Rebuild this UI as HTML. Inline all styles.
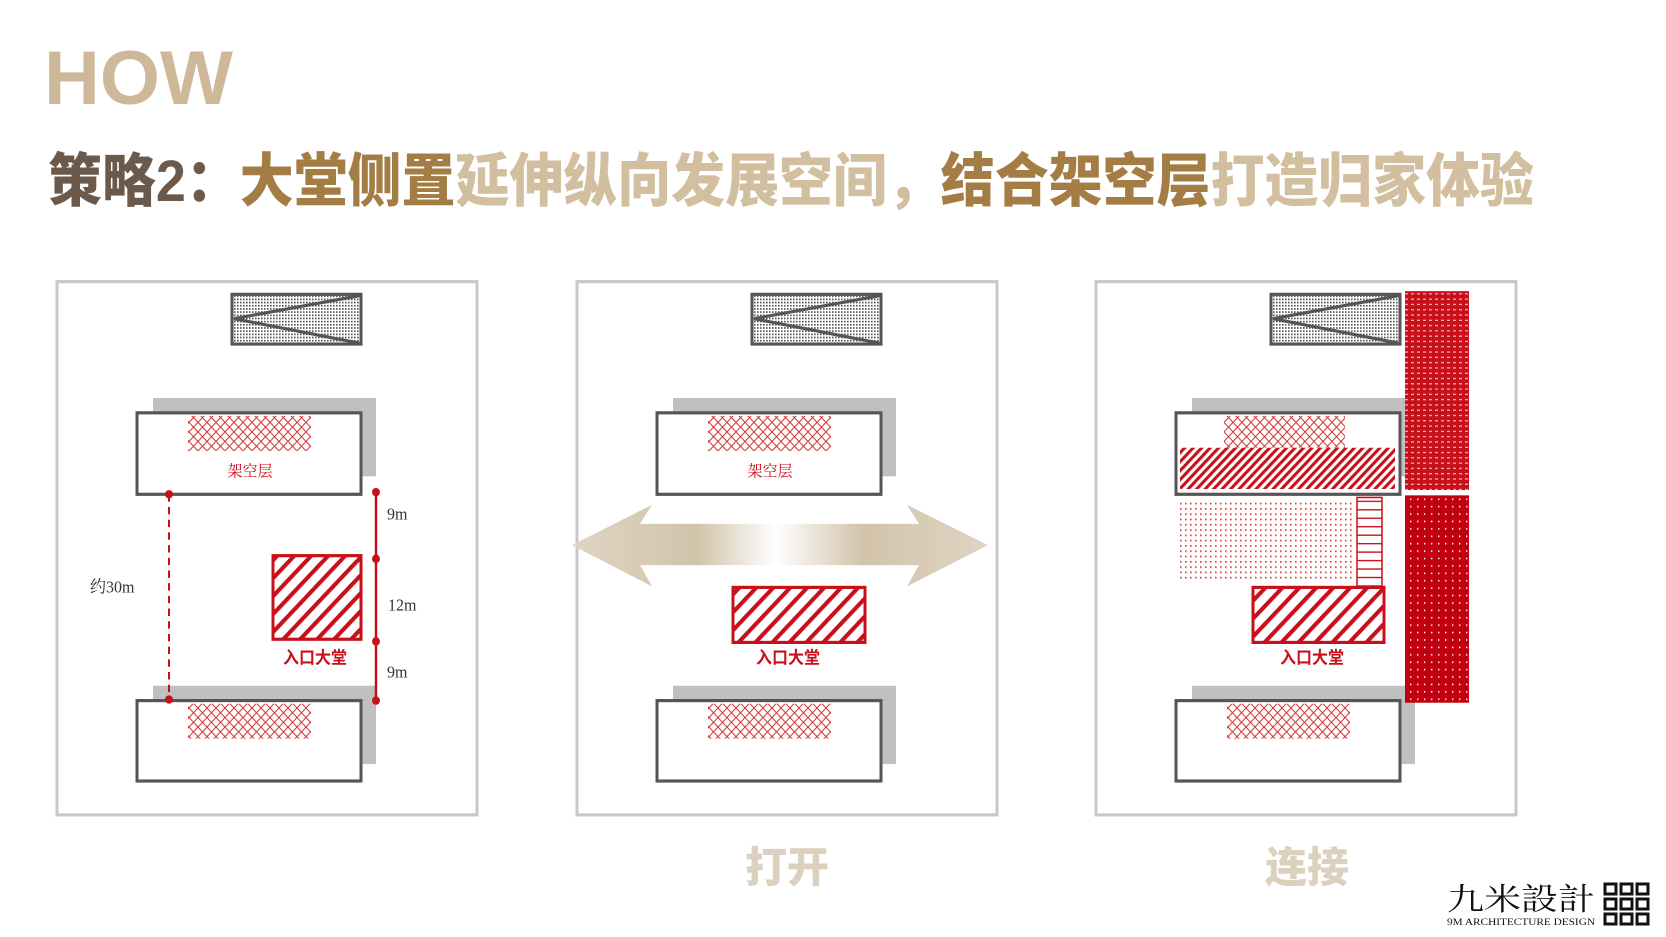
<!DOCTYPE html>
<html><head><meta charset="utf-8"><style>
html,body{margin:0;padding:0;background:#fff;}
svg{display:block;}
</style></head><body>
<svg width="1666" height="937" viewBox="0 0 1666 937" xmlns="http://www.w3.org/2000/svg">
<defs>
<pattern id="cross" width="9" height="9" patternUnits="userSpaceOnUse">
<path d="M0 0L9 9M9 0L0 9" stroke="#d03030" stroke-width="1"/>
</pattern>
<pattern id="diag" width="12" height="12" patternUnits="userSpaceOnUse" patternTransform="rotate(45)">
<rect width="12" height="12" fill="#fff"/><rect x="0" y="0" width="4" height="12" fill="#c8101a"/>
</pattern>
<pattern id="diag2" width="6" height="6" patternUnits="userSpaceOnUse" patternTransform="rotate(45)">
<rect width="6" height="6" fill="#fff"/><rect x="0" y="0" width="3" height="6" fill="#c8101a"/>
</pattern>
<pattern id="dots" width="3" height="3" patternUnits="userSpaceOnUse">
<rect width="3" height="3" fill="#fff"/><rect width="1.6" height="1.6" fill="#555"/>
</pattern>
<pattern id="pinkdots" width="5" height="5" patternUnits="userSpaceOnUse">
<rect width="5" height="5" fill="#fff"/><rect width="1.6" height="1.6" fill="#d84040"/>
</pattern>
<pattern id="redtex" width="6" height="5" patternUnits="userSpaceOnUse">
<rect width="6" height="5" fill="#c8101a"/><rect x="1" y="2" width="3" height="1.1" fill="#f0c0c0"/>
</pattern>
<pattern id="reddot" width="7" height="7" patternUnits="userSpaceOnUse">
<rect width="7" height="7" fill="#c00010"/><rect x="3" y="3" width="1.4" height="1.4" fill="#fff"/>
</pattern>
<pattern id="ladder" width="10" height="8" patternUnits="userSpaceOnUse">
<rect width="10" height="8" fill="#fff"/><rect y="0" width="10" height="1.3" fill="#c8101a"/>
</pattern>
<linearGradient id="ag" x1="572" y1="0" x2="988" y2="0" gradientUnits="userSpaceOnUse">
<stop offset="0" stop-color="#e0d5c3"/><stop offset="0.3" stop-color="#d2c3aa"/>
<stop offset="0.49" stop-color="#ffffff"/><stop offset="0.7" stop-color="#d2c3aa"/><stop offset="1" stop-color="#e0d5c3"/>
</linearGradient>
<g id="stair">
<rect x="232" y="293" width="129" height="47" fill="url(#dots)" stroke="#555" stroke-width="3"/>
<path d="M361 294L234 316L359 339" fill="none" stroke="#555" stroke-width="3"/>
</g>
<g id="bld">
<rect x="153" y="391" width="223" height="74" fill="#c0c0c0"/>
<rect x="137" y="405" width="224" height="77" fill="#fff" stroke="#555" stroke-width="3"/>
<rect x="153" y="663" width="223" height="74" fill="#c0c0c0"/>
<rect x="137" y="677" width="224" height="76" fill="#fff" stroke="#555" stroke-width="3"/>
<rect x="188" y="680" width="123" height="33" fill="url(#cross)"/>
</g>
</defs>

<text x="44" y="104" font-family="Liberation Sans, sans-serif" font-weight="bold" font-size="76" fill="#cdb99a" textLength="189" lengthAdjust="spacingAndGlyphs">HOW</text>

<text x="48" y="201" font-family="Liberation Sans, 'Noto Sans CJK SC', sans-serif" font-weight="900" font-size="58" textLength="1486" lengthAdjust="spacingAndGlyphs"><tspan fill="#6b5a4c">策略2：</tspan><tspan fill="#a47d45">大堂侧置</tspan><tspan fill="#d2bf9f">延伸纵向发展空间，</tspan><tspan fill="#a47d45">结合架空层</tspan><tspan fill="#d2bf9f">打造归家体验</tspan></text>

<g transform="matrix(1 0 0 1.058 0 -15.66)">
<!-- Panel 1 -->
<rect x="57" y="281" width="420" height="504" fill="#fff" stroke="#c8c8c8" stroke-width="3"/>
<use href="#stair"/>
<use href="#bld"/>
<rect x="188" y="408" width="123" height="33" fill="url(#cross)"/>
<text x="250" y="465" text-anchor="middle" font-family="'Noto Serif CJK SC', serif" font-size="15" fill="#c8101a">架空层</text>
<line x1="169" y1="482" x2="169" y2="676" stroke="#c8101a" stroke-width="2" stroke-dasharray="7,5"/>
<circle cx="169" cy="482" r="4" fill="#c8101a"/><circle cx="169" cy="676" r="4" fill="#c8101a"/>
<line x1="376" y1="480" x2="376" y2="677" stroke="#c8101a" stroke-width="2.5"/>
<circle cx="376" cy="480" r="4" fill="#c8101a"/><circle cx="376" cy="543" r="4" fill="#c8101a"/>
<circle cx="376" cy="621" r="4" fill="#c8101a"/><circle cx="376" cy="677" r="4" fill="#c8101a"/>
<text x="387" y="506" font-family="Liberation Serif, serif" font-size="16" fill="#333">9m</text>
<text x="388" y="592" font-family="Liberation Serif, serif" font-size="16" fill="#333">12m</text>
<text x="387" y="655" font-family="Liberation Serif, serif" font-size="16" fill="#333">9m</text>
<text x="90" y="575" font-family="Liberation Serif, 'Noto Serif CJK SC', serif" font-size="16" fill="#333">约30m</text>
<rect x="273" y="540" width="88" height="79" fill="url(#diag)" stroke="#c8101a" stroke-width="3"/>
<text x="315" y="642" text-anchor="middle" font-family="'Noto Sans CJK SC', sans-serif" font-weight="bold" font-size="16" fill="#c8101a">入口大堂</text>

<!-- Panel 2 -->
<rect x="577" y="281" width="420" height="504" fill="#fff" stroke="#c8c8c8" stroke-width="3"/>
<g transform="translate(520,0)">
<use href="#stair"/>
<use href="#bld"/>
<rect x="188" y="408" width="123" height="33" fill="url(#cross)"/>
<text x="250" y="465" text-anchor="middle" font-family="'Noto Serif CJK SC', serif" font-size="15" fill="#c8101a">架空层</text>
</g>
<path d="M572 530L652 492L640 510L919 510L907 492L988 530L907 569L919 549L640 549L652 569Z" fill="url(#ag)"/>
<rect x="733" y="570" width="132" height="52" fill="url(#diag)" stroke="#c8101a" stroke-width="3"/>
<text x="788" y="642" text-anchor="middle" font-family="'Noto Sans CJK SC', sans-serif" font-weight="bold" font-size="16" fill="#c8101a">入口大堂</text>

<!-- Panel 3 -->
<rect x="1096" y="281" width="420" height="504" fill="#fff" stroke="#c8c8c8" stroke-width="3"/>
<g transform="translate(1039,0)">
<use href="#stair"/>
<use href="#bld"/>
</g>
<rect x="1224" y="408" width="121" height="30" fill="url(#cross)"/>
<rect x="1180" y="438" width="215" height="39" fill="url(#diag2)"/>
<rect x="1177" y="488" width="178" height="75" fill="url(#pinkdots)"/>
<rect x="1357" y="485" width="25" height="85" fill="url(#ladder)" stroke="#c8101a" stroke-width="1.5"/>
<rect x="1253" y="570" width="131" height="52" fill="url(#diag)" stroke="#c8101a" stroke-width="3"/>
<text x="1312" y="642" text-anchor="middle" font-family="'Noto Sans CJK SC', sans-serif" font-weight="bold" font-size="16" fill="#c8101a">入口大堂</text>
<rect x="1405" y="290" width="64" height="188" fill="url(#redtex)"/>
<rect x="1405" y="483" width="64" height="196" fill="url(#reddot)"/>
</g>

<text x="787" y="882" text-anchor="middle" font-family="'Noto Sans CJK SC', sans-serif" font-weight="900" font-size="42" fill="#dcd0be">打开</text>
<text x="1307" y="882" text-anchor="middle" font-family="'Noto Sans CJK SC', sans-serif" font-weight="900" font-size="42" fill="#dcd0be">连接</text>

<!-- logo -->
<text x="1447" y="910" font-family="'Noto Serif CJK SC', serif" font-size="31" fill="#111" textLength="148" lengthAdjust="spacingAndGlyphs">九米設計</text>
<text x="1447" y="925" font-family="Liberation Serif, serif" font-size="9.5" fill="#111" textLength="148" lengthAdjust="spacingAndGlyphs">9M ARCHITECTURE DESIGN</text>
<g fill="none" stroke="#111" stroke-width="3">
<rect x="1605" y="884" width="11" height="10"/><rect x="1621" y="884" width="11" height="10"/><rect x="1637" y="884" width="11" height="10"/>
<rect x="1605" y="899" width="11" height="10"/><rect x="1621" y="899" width="11" height="10"/><rect x="1637" y="899" width="11" height="10"/>
<rect x="1605" y="914" width="11" height="10"/><rect x="1621" y="914" width="11" height="10"/><rect x="1637" y="914" width="11" height="10"/>
</g>
</svg>
</body></html>
